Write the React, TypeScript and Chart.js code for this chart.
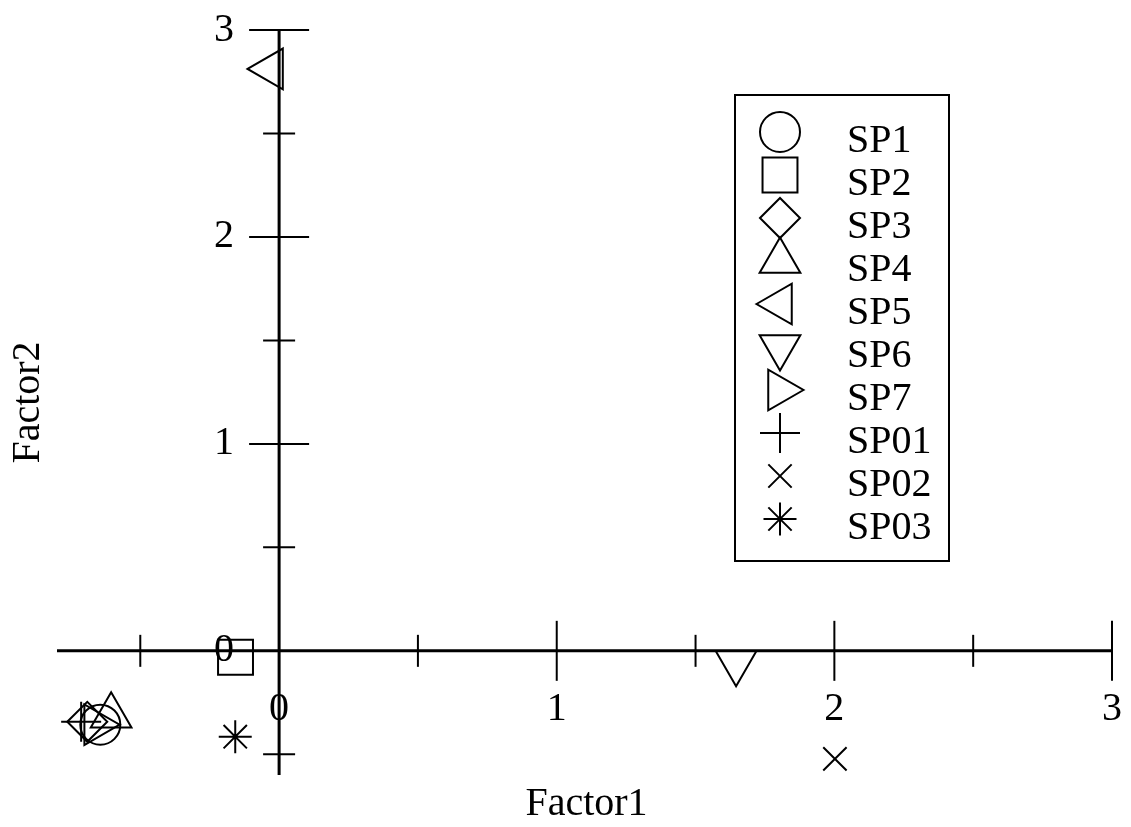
import React, { useEffect, useRef } from "react";
import { Chart, registerables } from "chart.js";
import { drawPoint } from "chart.js/helpers";

Chart.register(...registerables);

// ---- data ----
const categories = ["SP1", "SP2", "SP3", "SP4", "SP5", "SP6", "SP7", "SP01", "SP02", "SP03"];
const factor1 = [-0.644, -0.157, -0.691, -0.605, -0.029, 1.646, -0.659, -0.713, 2.002, -0.158];
const factor2 = [-0.357, -0.031, -0.343, -0.314, 2.812, -0.058, -0.357, -0.343, -0.522, -0.415];
const majorTicks = [0, 1, 2, 3];
const minorTicks = [-0.5, 0.5, 1.5, 2.5];
const tickLabels = ["0", "1", "2", "3"];
const xTitle = "Factor1";
const yTitle = "Factor2";

// ---- marker styles ----
const markerShapes = ["circle", "rect", "rectRot", "triangle", "triangle", "triangle", "triangle", "cross", "crossRot", "star"];
const markerRotations = [0, 0, 0, 0, -90, 180, 90, 0, 0, 0];
const markerRadii = [20, 24.7, 20, 23.5, 23.5, 23.5, 23.5, 20, 16.5, 16.5];

const FONT = "40px 'Liberation Serif', 'Times New Roman', serif";

const axesPlugin = {
  id: "crossAxes",
  beforeDatasetsDraw(chart: any) {
    const { ctx, chartArea } = chart;
    const xs = chart.scales.x;
    const ys = chart.scales.y;
    const x0 = xs.getPixelForValue(0);
    const y0 = ys.getPixelForValue(0);
    ctx.save();
    ctx.strokeStyle = "#000";
    ctx.lineWidth = 3;
    ctx.beginPath();
    ctx.moveTo(xs.getPixelForValue(xs.min), y0);
    ctx.lineTo(xs.getPixelForValue(xs.max), y0);
    ctx.moveTo(x0, ys.getPixelForValue(ys.max));
    ctx.lineTo(x0, ys.getPixelForValue(ys.min));
    ctx.stroke();

    ctx.lineWidth = 2;
    const seg = (a: number, b: number, c: number, d: number) => {
      ctx.beginPath();
      ctx.moveTo(a, b);
      ctx.lineTo(c, d);
      ctx.stroke();
    };
    majorTicks.forEach((v) => {
      if (v === 0) return;
      const px = xs.getPixelForValue(v);
      seg(px, y0 - 30, px, y0 + 30);
      const py = ys.getPixelForValue(v);
      seg(x0 - 30, py, x0 + 30, py);
    });
    minorTicks.forEach((v) => {
      const px = xs.getPixelForValue(v);
      seg(px, y0 - 16, px, y0 + 16);
      const py = ys.getPixelForValue(v);
      if (v >= ys.min && v <= ys.max) seg(x0 - 16, py, x0 + 16, py);
    });

    ctx.fillStyle = "#000";
    ctx.font = FONT;
    ctx.textBaseline = "middle";
    majorTicks.forEach((v, i) => {
      ctx.textAlign = "center";
      ctx.fillText(tickLabels[i], xs.getPixelForValue(v), y0 + 59);
      ctx.textAlign = "right";
      ctx.fillText(tickLabels[i], x0 - 45, ys.getPixelForValue(v));
    });

    // axis titles
    ctx.textAlign = "center";
    ctx.fillText(xTitle, (chartArea.left + chartArea.right) / 2 + 2, 804);
    ctx.save();
    ctx.translate(28, (chartArea.top + chartArea.bottom) / 2);
    ctx.rotate(-Math.PI / 2);
    ctx.fillText(yTitle, 0, 0);
    ctx.restore();
    ctx.restore();
  },
  afterDraw(chart: any) {
    const { ctx } = chart;
    ctx.save();
    const bx = 735, by = 95, bw = 214, bh = 466;
    ctx.fillStyle = "#fff";
    ctx.fillRect(bx, by, bw, bh);
    ctx.strokeStyle = "#000";
    ctx.lineWidth = 2;
    ctx.strokeRect(bx, by, bw, bh);
    categories.forEach((name, i) => {
      const my = 132 + 43 * i;
      ctx.strokeStyle = "#000";
      ctx.fillStyle = "rgba(0,0,0,0)";
      ctx.lineWidth = 2;
      drawPoint(ctx, {
        pointStyle: markerShapes[i],
        rotation: markerRotations[i],
        radius: markerRadii[i],
        borderWidth: 2,
      } as any, 780, my);
      ctx.fillStyle = "#000";
      ctx.font = FONT;
      ctx.textAlign = "left";
      ctx.textBaseline = "middle";
      ctx.fillText(name, 847, 141 + 43 * i);
    });
    ctx.restore();
  },
};

export default function App() {
  const ref = useRef<HTMLCanvasElement | null>(null);
  useEffect(() => {
    if (!ref.current) return;
    const chart = new Chart(ref.current, {
      type: "scatter",
      data: {
        datasets: categories.map((name, i) => ({
          label: name,
          data: [{ x: factor1[i], y: factor2[i] }],
          pointStyle: markerShapes[i] as any,
          pointRotation: markerRotations[i],
          pointRadius: markerRadii[i],
          pointHoverRadius: markerRadii[i],
          pointBorderWidth: 2,
          borderColor: "#000",
          backgroundColor: "rgba(0,0,0,0)",
          showLine: false,
          clip: false as any,
        })),
      },
      options: {
        animation: false,
        responsive: false,
        devicePixelRatio: 1,
        layout: { autoPadding: false, padding: { left: 57, right: 19, top: 30, bottom: 52 } } as any,
        scales: {
          x: { type: "linear", min: -0.8, max: 3, display: false },
          y: { type: "linear", min: -0.6, max: 3, display: false },
        },
        plugins: { legend: { display: false }, tooltip: { enabled: false } },
        events: [],
      },
      plugins: [axesPlugin],
    });
    return () => chart.destroy();
  }, []);
  return (
    <div style={{ position: "absolute", left: 0, top: 0, width: 1131, height: 827, background: "#fff" }}>
      <canvas ref={ref} width={1131} height={827} style={{ display: "block", width: 1131, height: 827 }} />
    </div>
  );
}
